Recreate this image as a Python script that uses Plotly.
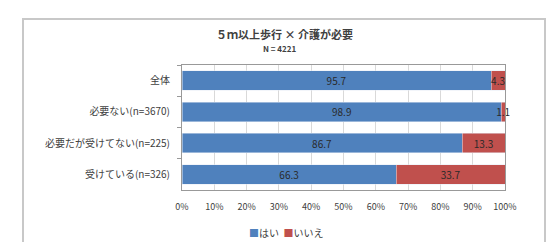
import plotly.graph_objects as go

categories = ["全体", "必要ない(n=3670)", "必要だが受けてない(n=225)", "受けている(n=326)"]
hai = [95.7, 98.9, 86.7, 66.3]
iie = [4.3, 1.1, 13.3, 33.7]
tick_vals = [0, 10, 20, 30, 40, 50, 60, 70, 80, 90, 100]
tick_text = [f"{v}%" for v in tick_vals]

FONT = "Noto Sans CJK JP"
BLUE = "#4F81BD"
RED = "#C0504D"

fig = go.Figure()
fig.add_trace(go.Bar(
    y=categories, x=hai, name="はい", orientation="h",
    marker=dict(color=BLUE),
    text=[f"{v:.1f}" for v in hai], textposition="inside", insidetextanchor="middle",
    textfont=dict(color="#2a2a2a", size=10, family=FONT), cliponaxis=False,
))
fig.add_trace(go.Bar(
    y=categories, x=iie, name="いいえ", orientation="h",
    marker=dict(color=RED),
    text=[f"{v:.1f}" for v in iie], textposition="inside", insidetextanchor="middle",
    constraintext="none",
    textfont=dict(color="#2a2a2a", size=10, family=FONT), cliponaxis=False,
))

L, R, T, B = 182, 44, 65, 52
W, H = 549, 242
pw, ph = W - L - R, H - T - B

def px(x):
    return (x - L) / pw

def py(y):
    return (H - B - y) / ph

legend_text = (f"<span style='color:{BLUE}'>■</span>はい  "
               f"<span style='color:{RED}'>■</span>いいえ")

fig.update_layout(
    width=W, height=H,
    margin=dict(l=L, r=R, t=T, b=B, autoexpand=False),
    barmode="stack", bargap=0.38,
    paper_bgcolor="white", plot_bgcolor="white",
    font=dict(family=FONT, size=10, color="#404040"),
    uniformtext=dict(minsize=9, mode="show"),
    showlegend=False,
    xaxis=dict(range=[0, 100], tickvals=tick_vals, ticktext=tick_text,
               showgrid=True, gridcolor="#d9d9d9", gridwidth=1, automargin=False,
               zeroline=False, showline=True, linecolor="#999999", mirror=True,
               ticks="", ticklabelstandoff=8, tickfont=dict(size=9, color="#404040")),
    yaxis=dict(autorange="reversed", showline=True, linecolor="#999999", mirror=True,
               automargin=False, ticks="outside", tickson="boundaries", ticklen=4,
               tickcolor="#999999", ticklabelstandoff=9,
               tickfont=dict(size=10, color="#404040")),
    shapes=[
        dict(type="rect", xref="paper", yref="paper",
             x0=px(23), x1=px(545), y0=py(260), y1=py(19),
             line=dict(color="#c8c8c8", width=2), layer="below"),
    ],
    annotations=[
        dict(text="<b>５ｍ以上歩行 × 介護が必要</b>", xref="paper", yref="paper",
             x=px(284), y=py(34), xanchor="center", yanchor="middle", showarrow=False,
             font=dict(size=11, color="#404040")),
        dict(text="<b>N = 4221</b>", xref="paper", yref="paper",
             x=px(280), y=py(48), xanchor="center", yanchor="middle", showarrow=False,
             font=dict(size=8, color="#404040")),
        dict(text=legend_text, xref="paper", yref="paper",
             x=px(286), y=py(232), xanchor="center", yanchor="middle", showarrow=False,
             font=dict(size=10, color="#404040")),
    ],
)

fig.write_html("out.html", config={"displayModeBar": False},
               post_script="document.body.style.margin='0';document.body.style.overflow='hidden';")
